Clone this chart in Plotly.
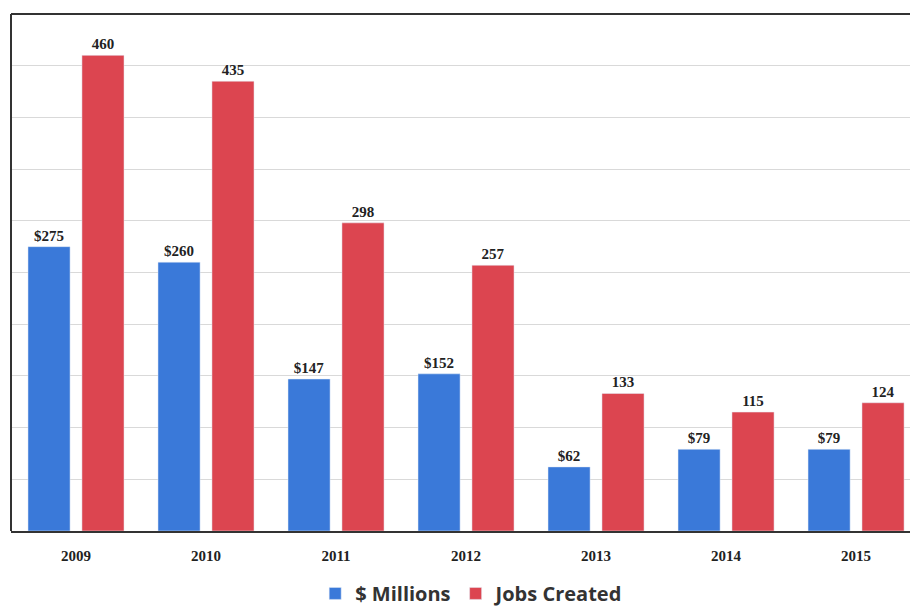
import plotly.graph_objects as go

years = ["2009", "2010", "2011", "2012", "2013", "2014", "2015"]
millions = [275, 260, 147, 152, 62, 79, 79]
jobs = [460, 435, 298, 257, 133, 115, 124]
millions_labels = ["$275", "$260", "$147", "$152", "$62", "$79", "$79"]
jobs_labels = ["460", "435", "298", "257", "133", "115", "124"]

BLUE = "#3a79d9"
RED = "#dc4550"
label_font = dict(family="Liberation Serif", size=15, color="#222222", weight="bold")

fig = go.Figure()
fig.add_trace(go.Bar(
    x=years, y=millions, name="$ Millions", marker_color=BLUE,
    text=millions_labels, textposition="outside", textfont=label_font,
    cliponaxis=False,
))
fig.add_trace(go.Bar(
    x=years, y=jobs, name="Jobs Created", marker_color=RED,
    text=jobs_labels, textposition="outside", textfont=label_font,
    cliponaxis=False,
))

fig.update_layout(
    width=910, height=608,
    margin=dict(l=11, r=0, t=14, b=77, autoexpand=False),
    paper_bgcolor="white", plot_bgcolor="white",
    barmode="group", bargap=0.17, bargroupgap=0.22,
    legend=dict(
        orientation="h", x=0.513, xanchor="center", y=-0.083, yanchor="top",
        font=dict(family="Open Sans", size=20, color="#333333", weight="bold"),
        itemwidth=30, tracegroupgap=0,
    ),
    xaxis=dict(
        range=[-0.5, 6.415], showgrid=False, showline=True, linecolor="#333333",
        linewidth=2, ticks="", tickfont=dict(family="Liberation Serif", size=15,
                                             color="#222222", weight="bold"),
        ticklabelstandoff=10,
    ),
    yaxis=dict(
        range=[0, 500], dtick=50, showgrid=True, gridcolor="#d9d9d9",
        gridwidth=1, showticklabels=False, zeroline=False, showline=False,
    ),
    shapes=[
        dict(type="line", xref="paper", yref="paper", x0=0, x1=0, y0=0, y1=1,
             line=dict(color="#333333", width=2)),
        dict(type="line", xref="paper", yref="paper", x0=0, x1=1, y0=1, y1=1,
             line=dict(color="#333333", width=2)),
    ],
)

fig.write_html("out.html")
